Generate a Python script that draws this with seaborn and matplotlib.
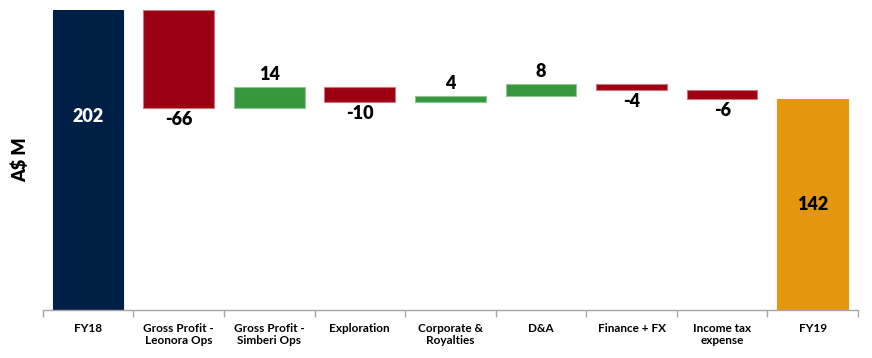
import numpy as np
import pandas as pd
import seaborn as sns
import matplotlib.pyplot as plt

categories = ['FY18', 'Gross Profit -\nLeonora Ops', 'Gross Profit -\nSimberi Ops', 'Exploration',
              'Corporate &\nRoyalties', 'D&A', 'Finance + FX', 'Income tax\nexpense', 'FY19']
changes = [202, -66, 14, -10, 4, 8, -4, -6, 142]
is_total = [True, False, False, False, False, False, False, False, True]

NAVY = '#001F47'
RED = '#9C0012'
GREEN = '#36973D'
ORANGE = '#E4960F'

# build waterfall bottoms / heights
bottoms, heights, colors = [], [], []
running = 0
for i, (val, tot) in enumerate(zip(changes, is_total)):
    if tot:
        bottoms.append(0)
        heights.append(val)
        colors.append(NAVY if i == 0 else ORANGE)
        running = val
    else:
        new = running + val
        bottoms.append(min(running, new))
        heights.append(abs(val))
        colors.append(GREEN if val > 0 else RED)
        running = new

df = pd.DataFrame({'category': categories, 'height': heights})

sns.set_style('white')
plt.rcParams['font.family'] = ['Lato', 'DejaVu Sans']
plt.rcParams['text.color'] = 'black'
plt.rcParams['axes.labelcolor'] = 'black'
plt.rcParams['xtick.color'] = 'black'

fig = plt.figure(figsize=(8.72, 3.58), dpi=100)
ax = fig.add_axes([0.049, 0.134, 0.935, 0.838])

sns.barplot(data=df, x='category', y='height', order=categories, color=NAVY,
            width=0.78, ax=ax, linewidth=0.8, saturation=1)
# shift bars up to their floating bottoms
for p, c, b in zip(ax.patches, colors, bottoms):
    p.set_y(b)
    p.set_facecolor(c)
    p.set_edgecolor(sns.light_palette(c, 3)[1] if c in (GREEN, RED) else c)

ax.set_ylim(0, 202)
ax.set_xlim(-0.5, len(categories) - 0.5)

# value labels
for i, (val, tot) in enumerate(zip(changes, is_total)):
    b, h = bottoms[i], heights[i]
    if tot:
        ypos = 130 if i == 0 else h / 2
        ax.text(i, ypos, f'{val}', ha='center', va='center', fontsize=13, fontweight='heavy',
                color='white' if i == 0 else 'black')
    elif val > 0:
        ax.annotate(f'{val}', (i, b + h), xytext=(0, 3), textcoords='offset points',
                    ha='center', va='bottom', fontsize=13, fontweight='heavy')
    else:
        ax.annotate(f'{val}', (i, b), xytext=(0, -2), textcoords='offset points',
                    ha='center', va='top', fontsize=13, fontweight='heavy')

ax.set_xlabel('')
ax.set_ylabel('A$ M', fontsize=13, fontweight='heavy', labelpad=10)
ax.set_yticks([])
ax.set_xticks(range(len(categories)))
ax.set_xticklabels(categories, fontsize=8.5, fontweight='bold')
ax.set_xticks(np.arange(-0.5, len(categories), 1), minor=True)
ax.tick_params(axis='x', which='major', length=0, pad=9)
ax.tick_params(axis='x', which='minor', length=5, color='#A6A6A6', width=1, bottom=True)

sns.despine(ax=ax, left=True)
ax.spines['bottom'].set_color('#A6A6A6')
ax.spines['bottom'].set_linewidth(1)

plt.savefig('out.png', dpi=100)
